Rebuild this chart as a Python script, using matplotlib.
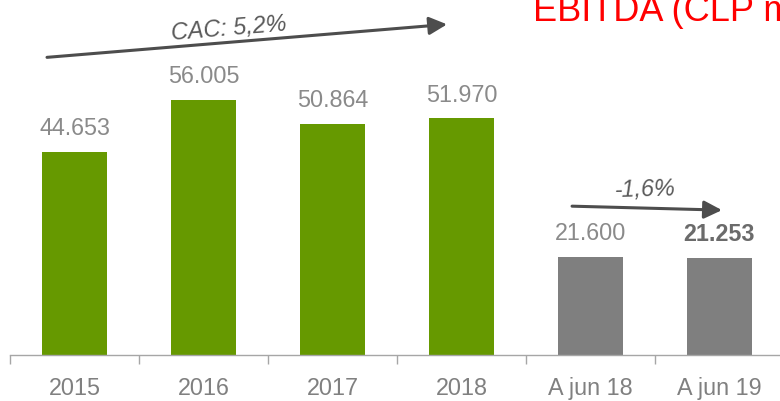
import matplotlib
matplotlib.use("Agg")
import matplotlib.pyplot as plt
import numpy as np

categories = ["2015", "2016", "2017", "2018", "A jun 18", "A jun 19"]
values = [44653, 56005, 50864, 51970, 21600, 21253]
value_labels = ["44.653", "56.005", "50.864", "51.970", "21.600", "21.253"]
bar_colors = ["#669900", "#669900", "#669900", "#669900", "#7f7f7f", "#7f7f7f"]
bold_flags = [False, False, False, False, False, True]
title_text = "EBITDA (CLP miles)"
cac_text = "CAC: 5,2%"
cac_start = (-0.213, 65400)
cac_end = (2.888, 72650)
var_text = "-1,6%"
var_start = (3.857, 32700)
var_end = (5.019, 31830)

FONT = ["Liberation Sans Narrow", "Liberation Sans", "DejaVu Sans"]
plt.rcParams["font.family"] = FONT

fig = plt.figure(figsize=(7.8, 4.01), dpi=100)
W, H = 780, 401
ax = fig.add_axes([10 / W, 46 / H, 774 / W, 355 / H])
ax.set_xlim(-0.5, 5.5)
ax.set_ylim(0, 78000)
x = np.arange(len(categories))
ax.bar(x, values, width=0.5, color=bar_colors)

FS = 16.8
for xi, v, lab, b in zip(x, values, value_labels, bold_flags):
    ax.annotate(lab, (xi, v), xytext=(0, 12.2), textcoords="offset points",
                ha="center", va="baseline", fontsize=FS,
                color="#6b6b6b" if b else "#8a8a8a",
                fontweight="bold" if b else "normal")

for s in ["top", "right", "left"]:
    ax.spines[s].set_visible(False)
ax.spines["bottom"].set_color("#a6a6a6")
ax.spines["bottom"].set_linewidth(1.0)
ax.set_yticks([])
ax.set_xticks(x)
ax.set_xticklabels(categories, fontsize=FS, color="#808080")
ax.tick_params(axis="x", which="major", length=0, pad=16)
ax.set_xticks(np.arange(-0.5, 6.0, 1.0), minor=True)
ax.tick_params(axis="x", which="minor", length=6.5, width=1.0, color="#a6a6a6")

arrow_style = dict(arrowstyle="-|>,head_length=0.6,head_width=0.3",
                   mutation_scale=18, lw=2.2, color="#4d4d4d",
                   shrinkA=0, shrinkB=0)
ax.annotate("", xy=cac_end, xytext=cac_start, arrowprops=arrow_style,
            annotation_clip=False)
ax.annotate("", xy=var_end, xytext=var_start, arrowprops=arrow_style,
            annotation_clip=False)

ax.text(1.2, 71700, cac_text, fontsize=FS, style="italic", color="#595959",
        ha="center", va="center", rotation=4.7, rotation_mode="anchor")
ax.text(4.42, 36400, var_text, fontsize=FS, style="italic", color="#595959",
        ha="center", va="center", rotation=1.5, rotation_mode="anchor")

fig.text(533 / W, 1 - 21 / H, title_text, fontsize=26, color="#ff0000",
         ha="left", va="baseline")

fig.savefig("out.png", dpi=100)
